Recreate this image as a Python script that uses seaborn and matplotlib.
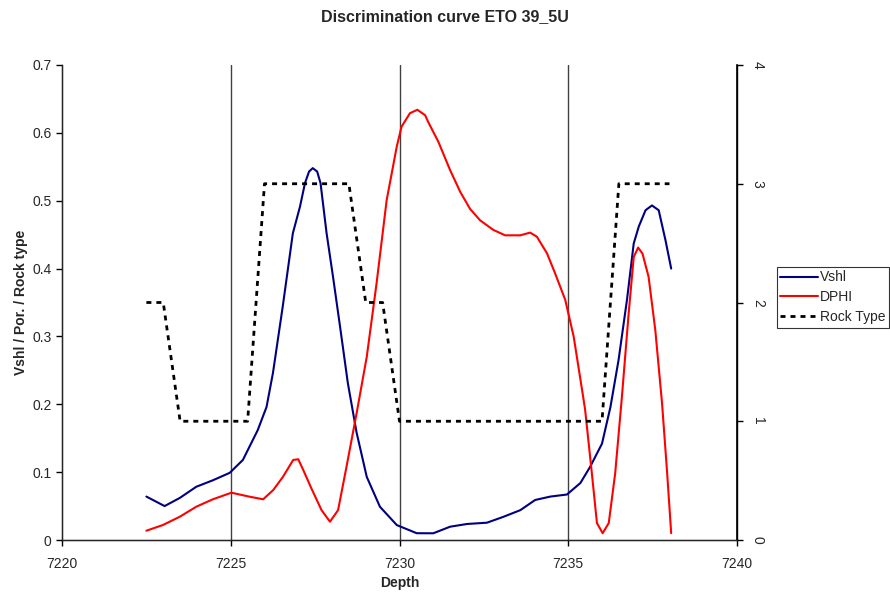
import matplotlib
matplotlib.use("Agg")
import matplotlib.pyplot as plt
import seaborn as sns
import pandas as pd
from matplotlib.lines import Line2D

# ---------------- data ----------------
vshl_depth = [7222.50, 7223.04, 7223.49, 7223.98, 7224.47, 7224.97, 7225.36, 7225.80, 7226.06,
              7226.25, 7226.54, 7226.84, 7227.05, 7227.20, 7227.32, 7227.43, 7227.56, 7227.66,
              7227.84, 7228.03, 7228.24, 7228.47, 7228.73, 7229.03, 7229.42, 7229.92, 7230.51,
              7231.00, 7231.50, 7232.00, 7232.59, 7233.07, 7233.58, 7234.02, 7234.47, 7234.96,
              7235.36, 7235.65, 7236.00, 7236.25, 7236.49, 7236.74, 7236.94, 7237.09, 7237.29,
              7237.48, 7237.68, 7237.88, 7238.05]
vshl_value = [0.064, 0.050, 0.062, 0.0785, 0.088, 0.099, 0.118, 0.162, 0.196,
              0.246, 0.344, 0.452, 0.491, 0.526, 0.543, 0.548, 0.543, 0.526,
              0.452, 0.388, 0.314, 0.231, 0.158, 0.093, 0.049, 0.022, 0.010,
              0.0099, 0.0196, 0.0236, 0.0255, 0.034, 0.044, 0.059, 0.064, 0.067,
              0.084, 0.108, 0.142, 0.196, 0.265, 0.354, 0.437, 0.462, 0.486,
              0.493, 0.486, 0.442, 0.400]

dphi_depth = [7222.50, 7222.99, 7223.49, 7223.98, 7224.47, 7225.02, 7225.56, 7225.96, 7226.26,
              7226.55, 7226.85, 7227.00, 7227.15, 7227.39, 7227.69, 7227.94, 7228.18, 7228.43,
              7228.73, 7229.03, 7229.32, 7229.62, 7229.92, 7230.06, 7230.21, 7230.31, 7230.53,
              7230.76, 7230.85, 7231.15, 7231.50, 7231.80, 7232.09, 7232.39, 7232.78, 7233.13,
              7233.58, 7233.87, 7234.07, 7234.37, 7234.61, 7234.91, 7235.16, 7235.41, 7235.50,
              7235.70, 7235.85, 7236.02, 7236.20, 7236.39, 7236.59, 7236.79, 7236.94, 7237.07,
              7237.20, 7237.38, 7237.58, 7237.78, 7237.93, 7238.05]
dphi_value = [0.0137, 0.0221, 0.0343, 0.0491, 0.060, 0.0697, 0.0638, 0.060, 0.0737,
              0.0933, 0.118, 0.119, 0.103, 0.076, 0.044, 0.027, 0.044, 0.108,
              0.187, 0.270, 0.378, 0.501, 0.580, 0.609, 0.621, 0.629, 0.634,
              0.626, 0.616, 0.587, 0.545, 0.513, 0.488, 0.471, 0.457, 0.449,
              0.449, 0.453, 0.447, 0.4225, 0.393, 0.354, 0.300, 0.221, 0.192,
              0.098, 0.025, 0.010, 0.025, 0.098, 0.211, 0.334, 0.417, 0.431,
              0.422, 0.388, 0.309, 0.201, 0.099, 0.010]

rock_depth = [7222.5, 7223.0, 7223.5, 7225.5, 7226.0, 7228.5, 7229.0, 7229.5, 7230.0,
              7236.0, 7236.5, 7238.0]
rock_value = [2, 2, 1, 1, 3, 3, 2, 2, 1, 1, 3, 3]

x_ticks = [7220, 7225, 7230, 7235, 7240]
y_ticks = [0, 0.1, 0.2, 0.3, 0.4, 0.5, 0.6, 0.7]
y2_ticks = [0, 1, 2, 3, 4]

# ---------------- plot ----------------
sns.set_style("white")
plt.rcParams['font.family'] = ['Liberation Sans', 'DejaVu Sans']

fig = plt.figure(figsize=(8.9, 5.95), dpi=100)
ax = fig.add_axes([62 / 890, 1 - 540 / 595, (737 - 62) / 890, (540 - 65) / 595])

df_v = pd.DataFrame({"Depth": vshl_depth, "val": vshl_value})
df_d = pd.DataFrame({"Depth": dphi_depth, "val": dphi_value})
df_r = pd.DataFrame({"Depth": rock_depth, "val": rock_value})

sns.lineplot(data=df_v, x="Depth", y="val", ax=ax, color="#000080", lw=1.5, sort=False,
             solid_joinstyle="round")
sns.lineplot(data=df_d, x="Depth", y="val", ax=ax, color="#FF0000", lw=1.5, sort=False,
             solid_joinstyle="round")

ax.set_xlim(7220, 7240)
ax.set_ylim(0, 0.7)
ax.set_xticks(x_ticks)
ax.set_yticks(y_ticks)
ax.set_yticklabels(["0" if t == 0 else f"{t:.1f}" for t in y_ticks])
for xv in [7225, 7230, 7235]:
    ax.axvline(xv, color="#404040", lw=1, zorder=0)
ax.set_xlabel("Depth", fontsize=10, fontweight="bold", labelpad=4)
ax.set_ylabel("Vshl / Por. / Rock type", fontsize=10, fontweight="bold", labelpad=3)
ax.tick_params(axis="both", direction="out", length=4, width=1, labelsize=10,
               bottom=True, left=True, color="black")
ax.tick_params(axis="x", pad=8)
ax.spines["top"].set_visible(False)
for s in ["left", "bottom", "right"]:
    ax.spines[s].set_color("black")
    ax.spines[s].set_linewidth(1)

ax2 = ax.twinx()
sns.lineplot(data=df_r, x="Depth", y="val", ax=ax2, color="black", lw=2, sort=False)
ax2.lines[0].set_dashes([1.8, 1.8])
ax2.set_ylim(0, 4)
ax2.set_xlim(7220, 7240)
ax2.set_yticks(y2_ticks)
ax2.set_ylabel("")
ax2.tick_params(axis="y", direction="out", length=4, width=1, labelsize=10, right=True,
                color="black", pad=6)
for lbl in ax2.get_yticklabels():
    lbl.set_rotation(-90)
    lbl.set_va("center")
ax2.spines["top"].set_visible(False)
ax2.spines["right"].set_color("black")
ax2.spines["right"].set_linewidth(1.2)

fig.suptitle("Discrimination curve ETO 39_5U", x=0.5, y=0.985, fontsize=11.5, fontweight="bold")

handles = [Line2D([], [], color="#000080", lw=1.5),
           Line2D([], [], color="#FF0000", lw=1.5),
           Line2D([], [], color="black", lw=2, dashes=[1.8, 1.8])]
leg = fig.legend(handles, ["Vshl", "DPHI", "Rock Type"], loc="upper left",
                 bbox_to_anchor=(777 / 890, 1 - 267 / 595), fontsize=10,
                 frameon=True, fancybox=False, borderpad=0.25, handlelength=2.7,
                 handletextpad=0.15, labelspacing=0.42, borderaxespad=0)
leg.get_frame().set_edgecolor("black")
leg.get_frame().set_linewidth(0.8)

fig.savefig("out.png", dpi=100)
